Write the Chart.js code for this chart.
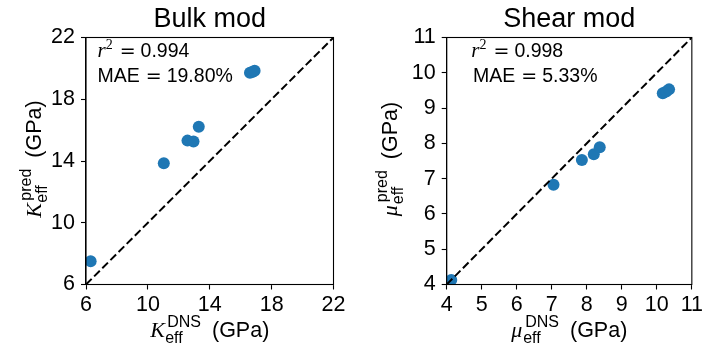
<!DOCTYPE html>
<html><head><meta charset="utf-8">
<script src="https://cdn.jsdelivr.net/npm/chart.js@4"></script>
<style>
html,body{margin:0;padding:0;background:#fff;overflow:hidden;}
.w{position:absolute;top:0;height:356px;width:353px;}
#a{left:0;} #b{left:353px;}
</style>
</head><body>
<div class="w" id="a"><canvas id="c1"></canvas></div>
<div class="w" id="b"><canvas id="c2"></canvas></div>
<script>
// ---- data ----
const bulkDNS   = [6.30, 11.03, 12.56, 12.95, 13.29, 16.60, 16.75, 16.90];
const bulkPred  = [7.50, 13.86, 15.32, 15.27, 16.22, 19.71, 19.76, 19.85];
const shearDNS  = [4.13, 7.05, 7.86, 8.20, 8.37, 10.17, 10.27, 10.35];
const shearPred = [4.13, 6.83, 7.53, 7.69, 7.89, 9.42, 9.47, 9.53];
const bulkTicks  = [6, 10, 14, 18, 22];
const shearTicks = [4, 5, 6, 7, 8, 9, 10, 11];
const bulkRange  = [6, 22];
const shearRange = [4, 11];
const bulkStats  = {r2: '0.994', mae: '19.80%'};
const shearStats = {r2: '0.998', mae: '5.33%'};

const SANS = '"Liberation Sans", Arial, sans-serif';
const SERIF = '"Liberation Serif", "DejaVu Serif", serif';
const EQ = '19px "DejaVu Sans", sans-serif';
const BLUE = '#1f77b4';

function segWidth(ctx, s){
  if (s.gap !== undefined) return s.gap;
  if (s.adv !== undefined) return s.adv;
  if (s.sub || s.sup){
    let w = 0;
    for (const p of [s.sub, s.sup]) if (p){ ctx.font = p.f; w = Math.max(w, ctx.measureText(p.t).width + (p.dx || 0)); }
    return w;
  }
  ctx.font = s.f; return ctx.measureText(s.t).width;
}
function drawRich(ctx, segs, x, y, align){
  let total = 0;
  for (const s of segs) total += segWidth(ctx, s);
  let cx = align === 'center' ? x - total/2 : x;
  ctx.textBaseline = 'alphabetic';
  ctx.textAlign = 'left';
  ctx.fillStyle = '#000';
  for (const s of segs){
    const w = segWidth(ctx, s);
    if (s.gap !== undefined){ cx += w; continue; }
    if (s.sub || s.sup){
      for (const p of [s.sub, s.sup]) if (p){ ctx.font = p.f; ctx.fillText(p.t, cx + (p.dx || 0), y + p.dy); }
    } else {
      ctx.font = s.f; ctx.fillText(s.t, cx, y + (s.dy || 0));
    }
    cx += w;
  }
}

function labelSegs(cfg, supText){
  return [
    {t: cfg.sym, f: 'italic 22px ' + SERIF, adv: cfg.symAdv},
    {sub: {t: 'eff', f: '16px ' + SANS, dy: 6, dx: -1}, sup: {t: supText, f: '16px ' + SANS, dy: -10, dx: 1}},
    {gap: 11},
    {t: '(GPa)', f: '21.5px ' + SANS}
  ];
}

function makeChart(id, cfg){
  const plugin = {
    id: 'decor',
    afterDraw(chart){
      const ctx = chart.ctx, a = chart.chartArea;
      ctx.save();
      ctx.strokeStyle = '#000'; ctx.lineWidth = 1.1;
      ctx.strokeRect(a.left, a.top, a.right - a.left, a.bottom - a.top);
      const cxp = (a.left + a.right)/2, cyp = (a.top + a.bottom)/2;
      // title
      ctx.font = '27px ' + SANS; ctx.fillStyle = '#000';
      ctx.textAlign = 'center'; ctx.textBaseline = 'alphabetic';
      ctx.fillText(cfg.title, cxp, 27);
      // annotations
      drawRich(ctx, [
        {t: 'r', f: 'italic 21px ' + SERIF},
        {t: '2', f: '14px ' + SERIF, dy: -8},
        {gap: 7},
        {t: '=', f: EQ},
        {gap: 5},
        {t: cfg.stats.r2, f: '19.5px ' + SANS}
      ], cfg.annX, 57, 'left');
      drawRich(ctx, [
        {t: 'MAE', f: '19.5px ' + SANS},
        {gap: 6},
        {t: '=', f: EQ},
        {gap: 5},
        {t: cfg.stats.mae, f: '19.5px ' + SANS}
      ], cfg.annX2, 82, 'left');
      // x label
      drawRich(ctx, labelSegs(cfg, 'DNS'), cxp, 337, 'center');
      // y label
      ctx.translate(cfg.yLabX, cyp - 2);
      ctx.rotate(-Math.PI/2);
      drawRich(ctx, labelSegs(cfg, 'pred'), 0, 0, 'center');
      ctx.restore();
    }
  };
  const pts = cfg.xs.map((v, i) => ({x: v, y: cfg.ys[i]}));
  const diag = [{x: cfg.range[0], y: cfg.range[0]}, {x: cfg.range[1], y: cfg.range[1]}];
  const axisCommon = (isX) => ({
    type: 'linear', min: cfg.range[0], max: cfg.range[1],
    afterBuildTicks: s => { s.ticks = cfg.ticks.map(v => ({value: v})); },
    afterFit: s => { if (isX) s.height = 356 - 284.5; else s.width = cfg.yAxisW; },
    ticks: {font: {family: SANS, size: 21.5}, color: '#000', padding: isX ? 3 : 6, maxRotation: 0, autoSkip: false},
    grid: {display: true, drawOnChartArea: false, drawTicks: true, tickLength: 5, tickColor: '#000', tickWidth: 1.1, color: '#000'},
    border: {display: true, color: '#000', width: 1.1},
    title: {display: false}
  });
  return new Chart(document.getElementById(id), {
    type: 'scatter',
    data: {datasets: [
      {type: 'line', data: diag, borderColor: '#000', borderWidth: 2, borderDash: [8, 3.5], pointRadius: 0, order: 0, fill: false},
      {data: pts, backgroundColor: BLUE, borderWidth: 0, pointRadius: 6, order: 1}
    ]},
    options: {
      responsive: true, maintainAspectRatio: false, animation: false,
      layout: {padding: {left: 0, right: cfg.padR, top: 37.5, bottom: 0}},
      plugins: {legend: {display: false}, tooltip: {enabled: false}},
      scales: {x: axisCommon(true), y: axisCommon(false)}
    },
    plugins: [plugin]
  });
}

makeChart('c1', {title: 'Bulk mod', sym: 'K', symAdv: 16, xs: bulkDNS, ys: bulkPred, range: bulkRange, ticks: bulkTicks,
  stats: bulkStats, yAxisW: 86, padR: 353 - 333.5, annX: 97.5, annX2: 97.5, yLabX: 41});
makeChart('c2', {title: 'Shear mod', sym: 'μ', symAdv: 13, xs: shearDNS, ys: shearPred, range: shearRange, ticks: shearTicks,
  stats: shearStats, yAxisW: 93.7, padR: 353 - 341.3, annX: 118.3, annX2: 120, yLabX: 44});
</script>
</body></html>
